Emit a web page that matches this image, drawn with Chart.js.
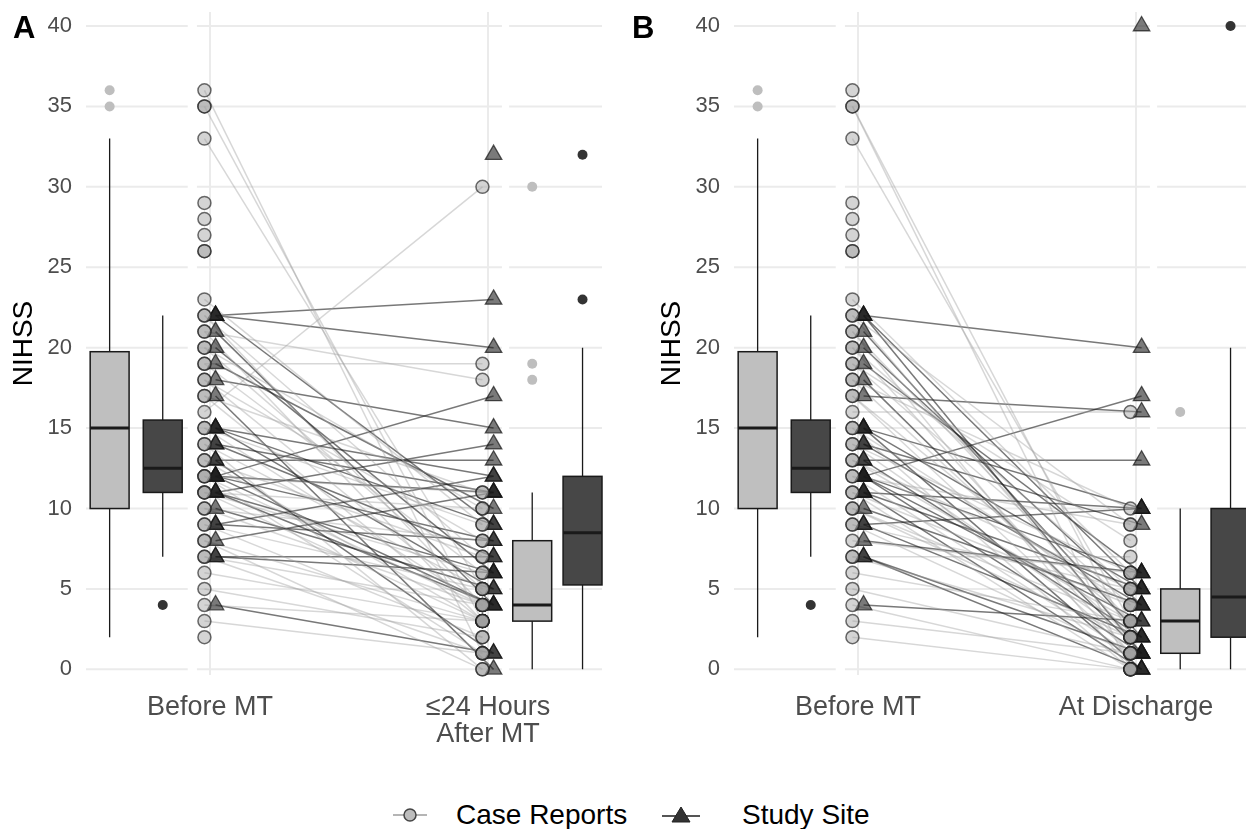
<!DOCTYPE html>
<html>
<head>
<meta charset="utf-8">
<script src="https://cdn.jsdelivr.net/npm/chart.js@4.4.0/dist/chart.umd.min.js"></script>
<style>
  body { margin: 0; width: 1246px; height: 829px; overflow: hidden; background: #fff; position: relative;
         font-family: "Liberation Sans", Arial, sans-serif; }
  .panel { position: absolute; top: 0; width: 620px; height: 770px; }
  #wrapA { left: 0; }
  #wrapB { left: 648px; }
  .tag { position: absolute; top: 10px; font-weight: bold; font-size: 31px; line-height: 36px; color: #000; }
  .legtxt { position: absolute; top: 797px; font-size: 28px; line-height: 36px; color: #000; }
  .legicon { position: absolute; top: 800px; }
</style>
</head>
<body>
<div class="panel" id="wrapA"><canvas id="chartA" width="620" height="770"></canvas></div>
<div class="panel" id="wrapB"><canvas id="chartB" width="620" height="770"></canvas></div>
<div class="tag" style="left:13px">A</div>
<div class="tag" style="left:632px">B</div>

<svg class="legicon" style="left:390px" width="40" height="30">
  <line x1="3" y1="15" x2="37" y2="15" stroke="#b5b5b5" stroke-width="2"/>
  <circle cx="20" cy="15" r="6" fill="#bdbdbd" stroke="#444" stroke-width="1.5"/>
</svg>
<div class="legtxt" style="left:456px">Case Reports</div>
<svg class="legicon" style="left:660px" width="42" height="30">
  <line x1="2" y1="16" x2="40" y2="16" stroke="#555" stroke-width="2"/>
  <polygon points="21,7 30,22 12,22" fill="#333" stroke="#222" stroke-width="1"/>
</svg>
<div class="legtxt" style="left:742px">Study Site</div>

<script>
// ---- data ----
const labelsA = ['Before MT', ['\u226424 Hours', 'After MT']];
const labelsB = ['Before MT', 'At Discharge'];
const yTicks = [0, 5, 10, 15, 20, 25, 30, 35, 40];

// Panel A: case reports, paired NIHSS (null = not reported)
const caseBeforeA = [36, 35, 35, 33, 29, 28, 27, 26, 26, 23, 22, 22, 21, 21, 20, 20, 19, 19, 18, 18, 17, 17, 16,
  15, 15, 14, 14, 13, 13, 12, 12, 12, 11, 11, 11, 10, 10, 9, 9, 8, 8, 7, 7, 6, 5, 4, 3, 2];
const caseAfterA = [1, 3, null, 5, null, null, null, null, null, 9, 4, 7, 18, 3, 5, 10, 19, 6, 4, 8, 11, 3, 30,
  4, 9, 5, 0, 3, 7, 4, 1, 11, 6, 3, 10, 4, 8, 2, 5, 3, 0, 4, 1, 3, 2, 3, 1, null];
// Panel A: study site
const studyBeforeA = [22, 22, 22, 21, 20, 19, 18, 17, 15, 15, 15, 14, 14, 13, 13, 12, 12, 12, 12, 11, 11, 11,
  10, 9, 9, 8, 7, 7, 4, null];
const studyAfterA = [23, 20, 9, 4, 6, 10, 15, 0, 9, 12, 5, 11, 7, 13, 1, 17, 8, 4, 11, 14, 6, 4,
  5, 12, 8, 11, 7, 6, 1, 32];

// Panel B: case reports
const caseBeforeB = [36, 35, 35, 33, 29, 28, 27, 26, 26, 23, 22, 22, 21, 21, 20, 20, 19, 19, 18, 18, 17, 17, 16,
  15, 15, 14, 14, 13, 13, 12, 12, 11, 11, 10, 10, 9, 9, 8, 7, 7, 6, 5, 4, 3, 2];
const caseAfterB = [null, 2, 0, 3, null, null, null, null, null, 6, 9, 2, 3, 0, 5, 1, 4, 8, 2, 10, 3, 1, 16,
  4, 0, 6, 2, 3, 5, 1, 9, 4, 0, 2, 3, 5, 1, 6, 2, 7, 3, 1, 0, 1, 0];
// Panel B: study site
const studyBeforeB = [22, 22, 22, 21, 20, 19, 18, 17, 15, 15, 15, 14, 14, 13, 13, 12, 12, 12, 12, 11, 11, 11,
  10, 9, 9, 8, 7, 7, 4, null];
const studyAfterB = [20, 5, 1, 2, 4, 6, 1, 16, 5, 0, 10, 4, 9, 13, 2, 17, 6, 1, 3, 10, 5, 0,
  4, 10, 2, 6, 1, 0, 3, 40];

// boxplot stats [min whisker, Q1, median, Q3, max whisker] and outliers
const boxCaseBefore = [2, 10, 15, 19.75, 33];
const outCaseBefore = [35, 36];
const boxStudyBefore = [7, 11, 12.5, 15.5, 22];
const outStudyBefore = [4];
const boxCaseAfterA = [0, 3, 4, 8, 11];
const outCaseAfterA = [18, 19, 30];
const boxStudyAfterA = [0, 5.25, 8.5, 12, 20];
const outStudyAfterA = [23, 32];
const boxCaseAfterB = [0, 1, 3, 5, 10];
const outCaseAfterB = [16];
const boxStudyAfterB = [0, 2, 4.5, 10, 20];
const outStudyAfterB = [40];

// ---- layout on the x axis (0 = before, 1 = after) ----
const X_MIN = -0.446, X_MAX = 1.41;
const DODGE = 0.02;
const BOX_X = { caseBefore: -0.361, studyBefore: -0.17, caseAfter: 1.159, studyAfter: 1.34 };
const BOX_HALF = 0.07;
const GAPS = [[-0.08, -0.047], [1.05, 1.076]];

Chart.defaults.font.family = "'Liberation Sans', Arial, sans-serif";

const decor = {
  id: 'decor',
  beforeDatasetsDraw(chart, args, opts) {
    const ctx = chart.ctx, xs = chart.scales.x, ys = chart.scales.y;
    const area = chart.chartArea;
    ctx.save();
    // horizontal grid, broken between the three sub-panels
    ctx.strokeStyle = '#ebebeb';
    ctx.lineWidth = 2;
    const cuts = [area.left];
    GAPS.forEach(g => { cuts.push(xs.getPixelForValue(g[0]), xs.getPixelForValue(g[1])); });
    cuts.push(area.right);
    yTicks.forEach(v => {
      const y = ys.getPixelForValue(v);
      for (let i = 0; i < cuts.length; i += 2) {
        ctx.beginPath();
        ctx.moveTo(cuts[i], y);
        ctx.lineTo(cuts[i + 1], y);
        ctx.stroke();
      }
    });
    // boxplots
    opts.boxes.forEach(b => {
      const xc = xs.getPixelForValue(b.x);
      const x0 = xs.getPixelForValue(b.x - BOX_HALF), x1 = xs.getPixelForValue(b.x + BOX_HALF);
      const [lo, q1, med, q3, hi] = b.stats.map(v => ys.getPixelForValue(v));
      ctx.strokeStyle = '#1a1a1a';
      ctx.lineWidth = 1.3;
      ctx.beginPath();
      ctx.moveTo(xc, lo); ctx.lineTo(xc, q1);
      ctx.moveTo(xc, q3); ctx.lineTo(xc, hi);
      ctx.stroke();
      ctx.fillStyle = b.fill;
      ctx.fillRect(x0, q3, x1 - x0, q1 - q3);
      ctx.lineWidth = 1.5;
      ctx.strokeRect(x0, q3, x1 - x0, q1 - q3);
      ctx.lineWidth = 3;
      ctx.beginPath();
      ctx.moveTo(x0, med); ctx.lineTo(x1, med);
      ctx.stroke();
    });
    ctx.restore();
  }
};

function pairLines(before, after, x0, x1, color) {
  const out = [];
  before.forEach((b, i) => {
    const a = after[i];
    if (b == null || a == null) return;
    out.push({
      type: 'line',
      data: [{ x: x0, y: b }, { x: x1, y: a }],
      borderColor: color, borderWidth: 1.5, pointRadius: 0, order: 5, clip: false
    });
  });
  return out;
}

function pointSet(values, x, style) {
  return Object.assign({
    type: 'scatter',
    data: values.filter(v => v != null).map(v => ({ x: x, y: v })),
    clip: false, order: 1
  }, style);
}

const caseStyle = { pointStyle: 'circle', pointRadius: 6.5, pointBackgroundColor: 'rgba(160,160,160,0.45)',
  pointBorderColor: 'rgba(30,30,30,0.65)', pointBorderWidth: 1.5 };
const studyStyle = { pointStyle: 'triangle', pointRadius: 9.5, pointBackgroundColor: 'rgba(26,26,26,0.58)',
  pointBorderColor: 'rgba(20,20,20,0.7)', pointBorderWidth: 1.3 };
const caseOutStyle = { pointRadius: 5, pointBackgroundColor: '#bebebe', pointBorderWidth: 0, order: 2 };
const studyOutStyle = { pointRadius: 5, pointBackgroundColor: '#333333', pointBorderWidth: 0, order: 2 };

function makeChart(id, labels, d) {
  // case points sit just left of each category, study points just right
  const datasets = [].concat(
    pairLines(d.caseBefore, d.caseAfter, -DODGE, 1 - DODGE, 'rgba(160,160,160,0.42)'),
    pairLines(d.studyBefore, d.studyAfter, DODGE, 1 + DODGE, 'rgba(30,30,30,0.6)'),
    [
      pointSet(d.caseBefore, -DODGE, caseStyle),
      pointSet(d.caseAfter, 1 - DODGE, caseStyle),
      pointSet(d.studyBefore, DODGE, studyStyle),
      pointSet(d.studyAfter, 1 + DODGE, studyStyle),
      pointSet(outCaseBefore, BOX_X.caseBefore, caseOutStyle),
      pointSet(outStudyBefore, BOX_X.studyBefore, studyOutStyle),
      pointSet(d.outCaseAfter, BOX_X.caseAfter, caseOutStyle),
      pointSet(d.outStudyAfter, BOX_X.studyAfter, studyOutStyle)
    ]
  );
  const boxes = [
    { x: BOX_X.caseBefore, stats: boxCaseBefore, fill: '#bfbfbf' },
    { x: BOX_X.studyBefore, stats: boxStudyBefore, fill: '#474747' },
    { x: BOX_X.caseAfter, stats: d.boxCaseAfter, fill: '#bfbfbf' },
    { x: BOX_X.studyAfter, stats: d.boxStudyAfter, fill: '#474747' }
  ];
  return new Chart(document.getElementById(id), {
    type: 'scatter',
    data: { datasets: datasets },
    options: {
      responsive: false,
      animation: false,
      layout: { padding: { top: 12, right: 18, left: 0, bottom: 0 } },
      plugins: { legend: { display: false }, tooltip: { enabled: false }, decor: { boxes: boxes } },
      scales: {
        x: {
          type: 'linear', min: X_MIN, max: X_MAX,
          afterBuildTicks: s => { s.ticks = [{ value: 0 }, { value: 1 }]; },
          afterFit: s => { s.height = 95; s.paddingLeft = 0; s.paddingRight = 0; },
          ticks: { callback: v => labels[v], font: { size: 27, lineHeight: 1.0 }, color: '#4d4d4d',
                   padding: 19, maxRotation: 0, autoSkip: false },
          grid: { color: '#ebebeb', lineWidth: 2, drawTicks: false },
          border: { display: false }
        },
        y: {
          min: -0.35, max: 40.87,
          afterBuildTicks: s => { s.ticks = yTicks.map(v => ({ value: v })); },
          afterFit: s => { s.width = 86; s.paddingTop = 0; s.paddingBottom = 0; },
          ticks: { font: { size: 22 }, color: '#4d4d4d', padding: 14 },
          grid: { display: false, drawTicks: false },
          border: { display: false },
          title: { display: true, text: 'NIHSS', font: { size: 28 }, color: '#000', padding: { top: 7, bottom: 0 } }
        }
      }
    },
    plugins: [decor]
  });
}

makeChart('chartA', labelsA, {
  caseBefore: caseBeforeA, caseAfter: caseAfterA, studyBefore: studyBeforeA, studyAfter: studyAfterA,
  boxCaseAfter: boxCaseAfterA, boxStudyAfter: boxStudyAfterA, outCaseAfter: outCaseAfterA, outStudyAfter: outStudyAfterA
});
makeChart('chartB', labelsB, {
  caseBefore: caseBeforeB, caseAfter: caseAfterB, studyBefore: studyBeforeB, studyAfter: studyAfterB,
  boxCaseAfter: boxCaseAfterB, boxStudyAfter: boxStudyAfterB, outCaseAfter: outCaseAfterB, outStudyAfter: outStudyAfterB
});
</script>
</body>
</html>
